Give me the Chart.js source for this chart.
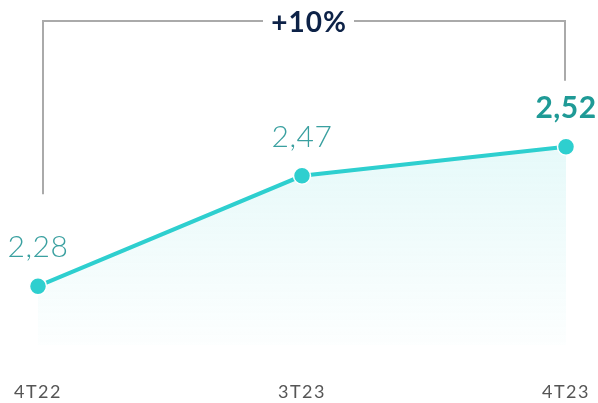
<!DOCTYPE html>
<html>
<head>
<meta charset="utf-8">
<script src="https://cdn.jsdelivr.net/npm/chart.js@4/dist/chart.umd.min.js"></script>
<style>
  html, body { margin: 0; padding: 0; background: #fff; }
  #wrap { width: 598px; height: 403px; position: relative; }
</style>
</head>
<body>
<div id="wrap"><canvas id="chart"></canvas></div>
<script>
const quarters = ['4T22', '3T23', '4T23'];
const values = [2.28, 2.47, 2.52];
const valueLabels = ['2,28', '2,47', '2,52'];
const growthLabel = '+10%';

const lineColor = '#2ecfcf';

// wider tracking for the axis labels
const spacingPlugin = {
    id: 'spacing',
    beforeDraw(chart) { chart.ctx.letterSpacing = '1.5px'; },
    beforeDatasetsDraw(chart) { chart.ctx.letterSpacing = '0px'; }
};

// value labels above each point
const valueLabelPlugin = {
    id: 'valueLabels',
    afterDatasetsDraw(chart) {
        const ctx = chart.ctx;
        const meta = chart.getDatasetMeta(0);
        ctx.save();
        ctx.letterSpacing = '0.5px';
        ctx.textAlign = 'center';
        ctx.textBaseline = 'alphabetic';
        meta.data.forEach((pt, i) => {
            const last = i === meta.data.length - 1;
            ctx.font = last ? '700 30px Lato' : '300 30px Lato';
            ctx.fillStyle = last ? '#1f9a96' : '#3aa0a0';
            ctx.fillText(valueLabels[i], pt.x, pt.y - 29);
        });
        ctx.restore();
    }
};

// bracket with growth label on top
const bracketPlugin = {
    id: 'bracket',
    afterDraw(chart) {
        const ctx = chart.ctx;
        const meta = chart.getDatasetMeta(0);
        const first = meta.data[0];
        const last = meta.data[meta.data.length - 1];
        const top = 21;
        const left = first.x + 5;
        const right = last.x - 1;
        const mid = (left + right) / 2 + 5;
        ctx.save();
        ctx.strokeStyle = '#aaaaaa';
        ctx.lineWidth = 2;
        ctx.beginPath();
        ctx.moveTo(left, first.y - 92);
        ctx.lineTo(left, top);
        ctx.lineTo(mid - 46, top);
        ctx.moveTo(mid + 45, top);
        ctx.lineTo(right, top);
        ctx.lineTo(right, last.y - 66);
        ctx.stroke();
        ctx.font = '700 28px Lato';
        ctx.letterSpacing = '1px';
        ctx.fillStyle = '#0d2247';
        ctx.textAlign = 'center';
        ctx.textBaseline = 'alphabetic';
        ctx.fillText(growthLabel, mid, 32);
        ctx.restore();
    }
};

const ctx = document.getElementById('chart');
new Chart(ctx, {
    type: 'line',
    data: {
        labels: quarters,
        datasets: [{
            data: values,
            borderColor: lineColor,
            borderWidth: 4,
            pointRadius: 8.5,
            pointHoverRadius: 8.5,
            pointBackgroundColor: lineColor,
            pointBorderColor: '#ffffff',
            pointBorderWidth: 1.5,
            tension: 0,
            fill: 'start',
            backgroundColor: (c) => {
                const area = c.chart.chartArea;
                if (!area) return 'rgba(46,207,207,0.1)';
                const g = c.chart.ctx.createLinearGradient(0, area.top + 100, 0, area.bottom);
                g.addColorStop(0, 'rgba(46,207,207,0.13)');
                g.addColorStop(1, 'rgba(46,207,207,0.01)');
                return g;
            }
        }]
    },
    options: {
        responsive: true,
        maintainAspectRatio: false,
        animation: false,
        layout: { padding: { left: 38, right: 32, top: 30, bottom: 0 } },
        plugins: { legend: { display: false }, tooltip: { enabled: false } },
        scales: {
            x: {
                offset: false,
                grid: { display: false, drawTicks: true, tickLength: 36 },
                border: { display: false },
                ticks: {
                    padding: 0,
                    color: '#555555',
                    font: { family: 'Lato', size: 18, weight: '400' },
                    maxRotation: 0
                }
            },
            y: {
                display: false,
                min: 2.178,
                max: 2.721
            }
        }
    },
    plugins: [spacingPlugin, valueLabelPlugin, bracketPlugin]
});
</script>
</body>
</html>
